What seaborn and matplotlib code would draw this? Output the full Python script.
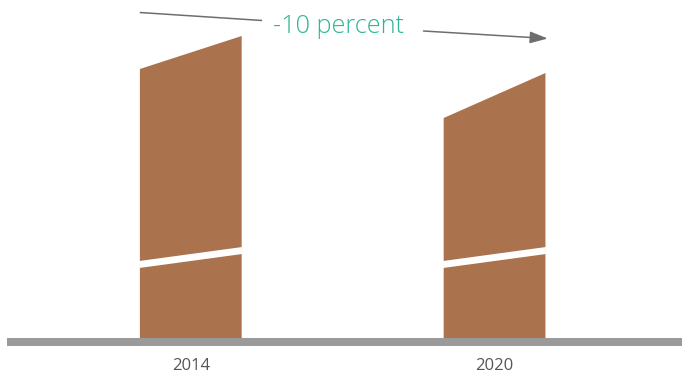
import numpy as np
import matplotlib
matplotlib.use("Agg")
import matplotlib.pyplot as plt
from matplotlib.patches import Polygon
import seaborn as sns

# Data (heights measured from the baseline)
years = ["2014", "2020"]
top_left = [269, 220]      # height of bar top at its left edge
top_right = [302, 265]     # height of bar top at its right edge
break_left = [70, 70]      # axis-break band, lower edge at left
break_right = [84, 84]     # axis-break band, lower edge at right
break_gap = 7
change_label = "-10 percent"

bar_color = "#AA724D"
base_color = "#9A9A9A"
note_color = "#2DB596"
arrow_color = "#6E6E6E"

sns.set_theme(style="white")
plt.rcParams["font.family"] = ["Open Sans", "DejaVu Sans"]

fig = plt.figure(figsize=(6.82, 3.76), dpi=100)
# axes bottom sits on the bottom of the baseline (pixel 346 of 376)
ax = fig.add_axes([0, 30 / 376, 1, 346 / 376])

sns.barplot(x=years, y=top_right, color=bar_color, width=0.335, ax=ax,
            saturation=1)

# turn plain bars into slanted-top bars with a break band
for patch, hl, hr, bl, br in zip(ax.patches, top_left, top_right,
                                 break_left, break_right):
    x0 = patch.get_x()
    x1 = x0 + patch.get_width()
    patch.set_visible(False)
    ax.add_patch(Polygon([(x0, 0), (x1, 0), (x1, hr), (x0, hl)],
                         closed=True, facecolor=bar_color, edgecolor="none",
                         zorder=2))
    ax.add_patch(Polygon([(x0 - 0.002, bl), (x1 + 0.002, br),
                          (x1 + 0.002, br + break_gap), (x0 - 0.002, bl + break_gap)],
                         closed=True, facecolor="white", edgecolor="none",
                         zorder=3))

ax.set_xlim(-0.628, 1.617)
ax.set_ylim(-8, 338)

# baseline
ax.axhline(-4, xmin=7 / 682, xmax=1, color=base_color, linewidth=5.8,
           solid_capstyle="butt", zorder=4)

# annotation: line, label, arrow
ax.plot([-0.168, 0.235], [325.5, 317.5], color=arrow_color, linewidth=1.1,
        solid_capstyle="butt")
ax.text(0.487, 305, change_label, color=note_color, fontsize=18.2,
        fontweight="light", ha="center", va="baseline")
ax.annotate("", xy=(1.175, 299.5), xytext=(0.766, 307),
            arrowprops=dict(arrowstyle="-|>,head_length=0.9,head_width=0.3",
                            color=arrow_color, linewidth=1.1,
                            shrinkA=0, shrinkB=0))

ax.set_xticks(range(len(years)))
ax.set_xticklabels(years, fontsize=12, color="#555555")
ax.tick_params(axis="x", length=0, pad=9)
ax.set_yticks([])
ax.set_xlabel("")
ax.set_ylabel("")
for s in ax.spines.values():
    s.set_visible(False)

fig.savefig("out.png", dpi=100)
